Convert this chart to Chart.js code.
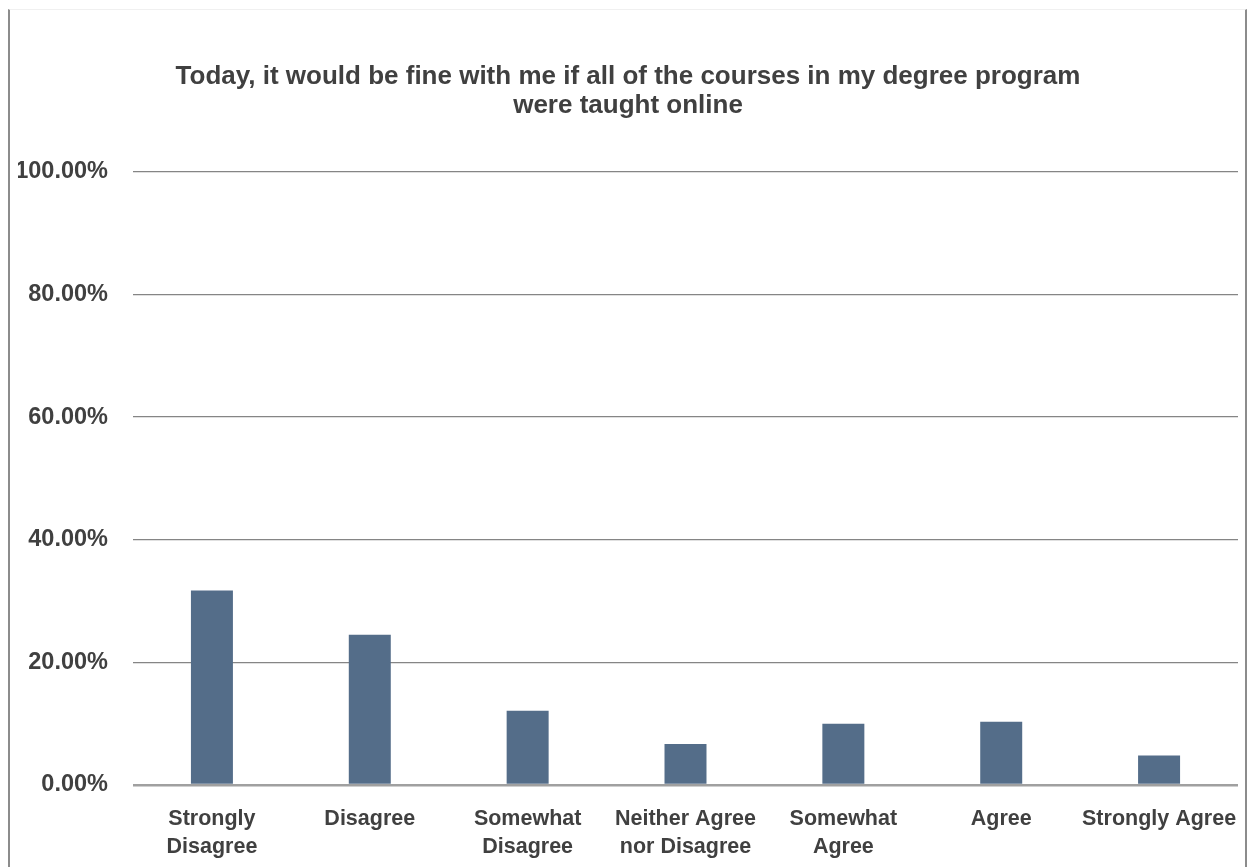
<!DOCTYPE html>
<html>
<head>
<meta charset="utf-8">
<script src="https://cdn.jsdelivr.net/npm/chart.js@4/dist/chart.umd.min.js"></script>
<style>
  html, body { margin: 0; padding: 0; background: #ffffff; }
  #wrap { position: relative; width: 1247px; height: 867px; overflow: hidden; }
  canvas { position: absolute; left: 0; top: 0; }
  #frame { position: absolute; left: 8px; top: 9px; width: 1235px; height: 900px;
           border-left: 2px solid #8c8c8c; border-right: 2px solid #8c8c8c; border-top: 1px solid #f0f0f0;
           pointer-events: none; }
</style>
</head>
<body>
<div id="wrap">
  <canvas id="c" width="1247" height="867"></canvas>
  <div id="frame"></div>
</div>
<script>
const titleLines = ["Today, it would be fine with me if all of the courses in my degree program", "were taught online"];
const categories = [
  ["Strongly", "Disagree"],
  ["Disagree"],
  ["Somewhat", "Disagree"],
  ["Neither Agree", "nor Disagree"],
  ["Somewhat", "Agree"],
  ["Agree"],
  ["Strongly Agree"]
];
const percentValues = [31.7, 24.5, 12.1, 6.7, 10.0, 10.3, 4.8];
const yTickValues = [0, 20, 40, 60, 80, 100];
const yTickLabels = ["0.00%", "20.00%", "40.00%", "60.00%", "80.00%", "100.00%"];

const FONT = "'Liberation Sans Narrow', 'Arial Narrow', 'Liberation Sans', Arial, sans-serif";
const TEXT = '#404040';

new Chart(document.getElementById('c'), {
  type: 'bar',
  data: {
    labels: categories,
    datasets: [{
      data: percentValues,
      backgroundColor: '#546d89',
      borderWidth: 0,
      categoryPercentage: 1.0,
      barPercentage: 0.266
    }]
  },
  options: {
    responsive: false,
    animation: false,
    layout: { padding: { left: 18, right: 9, top: 0, bottom: 5 } },
    plugins: {
      legend: { display: false },
      tooltip: { enabled: false },
      title: {
        display: true,
        text: titleLines,
        color: TEXT,
        font: { family: FONT, size: 26, weight: 'bold', lineHeight: 1.13 },
        padding: { top: 62, bottom: 51 }
      }
    },
    scales: {
      x: {
        afterFit: (s) => { s.height = 77; s.paddingLeft = 0; s.paddingRight = 0; },
        grid: { display: false, drawTicks: false },
        border: { display: false },
        ticks: {
          color: TEXT,
          maxRotation: 0,
          minRotation: 0,
          autoSkip: false,
          padding: 20,
          font: { family: FONT, size: 21.5, weight: 'bold', lineHeight: 1.3 }
        }
      },
      y: {
        min: 0,
        max: 100,
        afterFit: (s) => { s.width = 115; },
        afterBuildTicks: (s) => { s.ticks = yTickValues.map(v => ({ value: v })); },
        border: { display: false },
        grid: {
          drawTicks: false,
          color: (ctx) => ctx.tick && ctx.tick.value === 0 ? '#a0a0a0' : '#858585',
          lineWidth: (ctx) => ctx.tick && ctx.tick.value === 0 ? 2.5 : 1.3
        },
        ticks: {
          color: TEXT,
          padding: 25,
          font: { family: FONT, size: 23.5, weight: 'bold' },
          callback: (v) => yTickLabels[yTickValues.indexOf(v)]
        }
      }
    }
  }
});
</script>
</body>
</html>
